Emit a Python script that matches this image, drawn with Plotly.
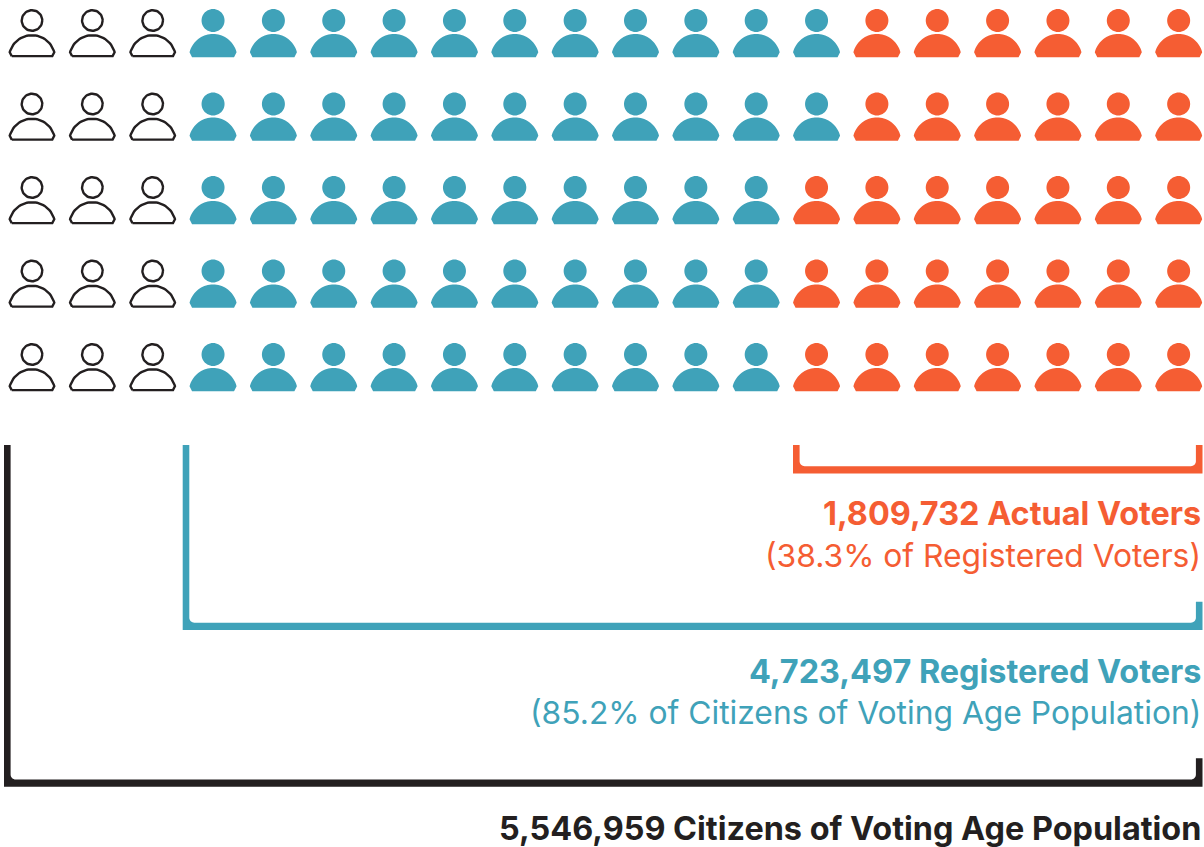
import math
import plotly.graph_objects as go

# ---- data ----
row_labels = [1, 2, 3, 4, 5]
non_registered_per_row = [3, 3, 3, 3, 3]
registered_nonvoting_per_row = [11, 11, 10, 10, 10]
voters_per_row = [6, 6, 7, 7, 7]

texts_actual = ["1,809,732 Actual Voters", "(38.3% of Registered Voters)"]
texts_registered = ["4,723,497 Registered Voters", "(85.2% of Citizens of Voting Age Population)"]
texts_citizens = ["5,546,959 Citizens of Voting Age Population"]

# ---- style & geometry ----
ORANGE, TEAL, BLACK = "#F55D33", "#3FA2B9", "#231F20"
W, H = 1204, 847
PX, PY = 60.35, 83.5          # px per column / row
X0, Y0 = 32.0, 20.5           # px position of first icon head centre
FONT = "Inter"


def head_body(col, row, inset=0.0):
    """Icon outline in axis units (column, row); offsets are relative to the icon."""
    xs, ys = [], []
    r = 11.5 - inset
    for k in range(49):
        a = 2 * math.pi * k / 48
        xs.append(col + r * math.cos(a) / PX)
        ys.append(row + r * math.sin(a) / PY)
    xs.append(None); ys.append(None)
    R = 24.3 - inset
    cy = 37.8
    edge = 31.7
    start = math.asin((edge - cy) / R)
    pts = []
    pts.append((-21 + inset * 0.6, 36.8 - inset))
    n = 36
    for k in range(n + 1):
        a = math.pi + (-start) + (math.pi + 2 * start) * k / n
        pts.append((R * math.cos(a), cy + R * math.sin(a)))
    pts.append((21 - inset * 0.6, 36.8 - inset))
    pts.append(pts[0])
    for px, py in pts:
        xs.append(col + px / PX)
        ys.append(row + py / PY)
    xs.append(None); ys.append(None)
    return xs, ys


def group(cells, inset=0.0):
    xs, ys = [], []
    for c, r in cells:
        a, b = head_body(c, r, inset)
        xs += a; ys += b
    return xs, ys


empty, teal, orange = [], [], []
for i, _ in enumerate(row_labels):
    a, b, c = non_registered_per_row[i], registered_nonvoting_per_row[i], voters_per_row[i]
    empty += [(k, i) for k in range(a)]
    teal += [(k, i) for k in range(a, a + b)]
    orange += [(k, i) for k in range(a + b, a + b + c)]

fig = go.Figure()
x, y = group(empty, 1.2)
fig.add_trace(go.Scatter(x=x, y=y, mode="lines", line=dict(color=BLACK, width=2.4), hoverinfo="skip"))
for cells, col in ((teal, TEAL), (orange, ORANGE)):
    x, y = group(cells)
    fig.add_trace(go.Scatter(x=x, y=y, mode="none", fill="toself", fillcolor=col, hoverinfo="skip"))


def ux(p):
    return (p - X0) / PX


def uy(p):
    return (p - Y0) / PY


def bracket(left, right, top_l, top_r, bottom, color, tx=6.6, ty=7.3, rad=5.0):
    """Filled bracket with a square outer edge and rounded inner corners."""
    pts = [(left, top_l), (left, bottom), (right, bottom), (right, top_r), (right - tx, top_r)]
    ic = bottom - ty
    for k in range(9):
        a = math.pi / 2 * k / 8
        pts.append((right - tx - rad + rad * math.cos(a), ic - rad + rad * math.sin(a)))
    for k in range(9):
        a = math.pi / 2 + math.pi / 2 * k / 8
        pts.append((left + tx + rad + rad * math.cos(a), ic - rad + rad * math.sin(a)))
    pts.append((left + tx, top_l))
    pts.append(pts[0])
    fig.add_trace(go.Scatter(x=[ux(p[0]) for p in pts], y=[uy(p[1]) for p in pts], mode="none",
                             fill="toself", fillcolor=color, hoverinfo="skip"))


bracket(793, 1202.5, 445, 445, 473.5, ORANGE)
bracket(182.7, 1202.5, 445, 601.7, 630, TEAL)
bracket(4, 1202.5, 445, 758.3, 786.8, BLACK)


def label(text, py, color, weight, size):
    fig.add_annotation(x=ux(1203), y=uy(py), xref="x", yref="y", text=text, showarrow=False,
                       xanchor="right", yanchor="middle", xshift=0,
                       font=dict(family=FONT, size=size, color=color, weight=weight))


BOLD, REG = 32.4, 31.8
label(texts_actual[0], 513.5, ORANGE, 700, BOLD)
label(texts_actual[1], 555.5, ORANGE, 400, REG)
label(texts_registered[0], 671, TEAL, 700, BOLD)
label(texts_registered[1], 712.5, TEAL, 400, REG)
label(texts_citizens[0], 828, BLACK, 700, BOLD)

fig.update_layout(
    width=W, height=H, margin=dict(l=0, r=0, t=0, b=0), showlegend=False,
    paper_bgcolor="white", plot_bgcolor="white",
    xaxis=dict(range=[ux(0), ux(W)], visible=False, fixedrange=True),
    yaxis=dict(range=[uy(H), uy(0)], visible=False, fixedrange=True),
)
fig.write_html("out.html", config=dict(displayModeBar=False),
               post_script="document.body.style.margin='0';document.body.style.overflow='hidden';")
